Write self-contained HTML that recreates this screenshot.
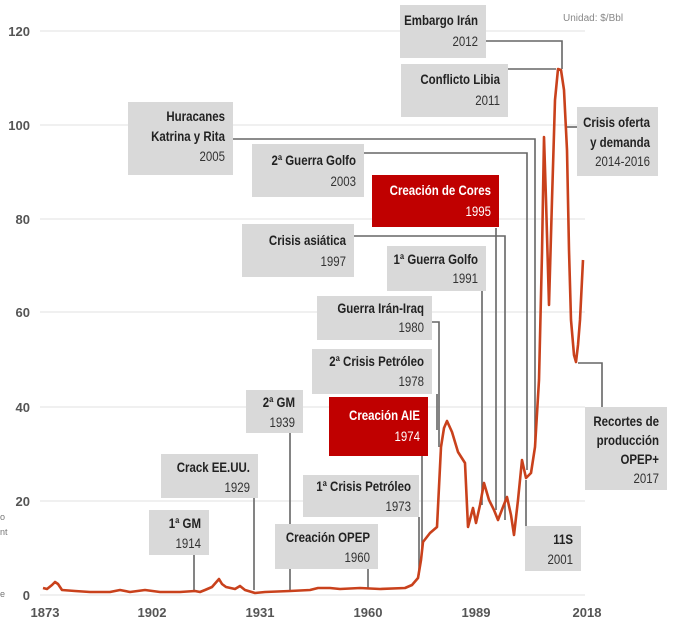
<!DOCTYPE html>
<html><head><meta charset="utf-8"><style>
html,body{margin:0;padding:0;background:#fff;}
svg{display:block;font-family:"Liberation Sans Narrow","Liberation Sans",sans-serif;}
.t{font-weight:bold;font-size:13.5px;fill:#222;text-anchor:end;}
.y{font-size:13.5px;fill:#333;text-anchor:end;}
.w{fill:#fff;}
.ax{font-size:13px;fill:#555;font-weight:bold;}
</style></head><body>
<svg width="680" height="630" viewBox="0 0 680 630">
<g stroke="#e6e6e6" stroke-width="1.2">
<line x1="40" y1="31" x2="585" y2="31"/><line x1="40" y1="125" x2="585" y2="125"/>
<line x1="40" y1="219" x2="585" y2="219"/><line x1="40" y1="312" x2="585" y2="312"/>
<line x1="40" y1="407" x2="585" y2="407"/><line x1="40" y1="501" x2="585" y2="501"/>
<line x1="40" y1="595" x2="585" y2="595"/>
</g>
<g class="ax" text-anchor="end">
<text x="30" y="36">120</text><text x="30" y="130">100</text><text x="30" y="224">80</text>
<text x="30" y="317">60</text><text x="30" y="412">40</text><text x="30" y="506">20</text><text x="30" y="600">0</text>
</g>
<g class="ax" text-anchor="middle">
<text x="45" y="617">1873</text><text x="152" y="617">1902</text><text x="260" y="617">1931</text>
<text x="368" y="617">1960</text><text x="476" y="617">1989</text><text x="587" y="617">2018</text>
</g>
<text x="563" y="21" font-size="10" fill="#888">Unidad: $/Bbl</text>
<g font-size="9" fill="#777"><text x="0" y="520">o</text><text x="0" y="535">nt</text><text x="0" y="597">e</text></g>

<g stroke="#666" stroke-width="1.6" fill="none">
<polyline points="486,41 562,41 562,69"/>
<polyline points="508,69 556,69"/>
<polyline points="233,139 535,139 535,440"/>
<polyline points="364,153 527,153 527,470"/>
<polyline points="496,228 496,510"/>
<polyline points="353,236 505,236 505,520"/>
<polyline points="482,291 482,505"/>
<polyline points="432,322 439,322 439,447"/>
<polyline points="437,394 437,430"/>
<polyline points="422,456 422,550"/>
<polyline points="419,517 419,575"/>
<polyline points="368,569 368,588"/>
<polyline points="290,433 290,590"/>
<polyline points="254,498 254,590"/>
<polyline points="194,555 194,590"/>
<polyline points="526,526 526,480"/>
<polyline points="602,407 602,363 578,363"/>
<polyline points="577,127 567,127"/>
</g>

<polyline fill="none" stroke="#c9411c" stroke-width="2.6" stroke-linejoin="round" points="43,588 47,589 52,585 55,582 58,584 62,590 75,591 90,592 110,592 120,590 130,592 145,590 160,592 180,592 195,591 200,592 205,590 212,587 219,579 222,584 226,587 235,589 240,586 245,590 255,593 265,592 290,591 310,590 318,588 330,588 340,589 360,588 380,589 405,588 412,585 418,578 421,560 423,542 430,533 437,527 441,447 444,428 447,421 452,432 458,452 465,463 468,527 473,508 476,523 480,505 484,483 489,500 494,510 498,520 503,507 507,497 511,515 514,535 518,500 522,460 526,478 531,473 535,447 539,380 542,253 544,137 546,200 549,305 552,200 555,100 558,69 561,70 564,90 567,150 569,250 571,320 574,355 576,362 578,345 580,320 583,260"/>

<g fill="#d9d9d9">
<rect x="400" y="5" width="86" height="53"/>
<rect x="401" y="64" width="107" height="53"/>
<rect x="128" y="102" width="105" height="73"/>
<rect x="252" y="144" width="112" height="53"/>
<rect x="242" y="224" width="112" height="53"/>
<rect x="387" y="246" width="99" height="45"/>
<rect x="317" y="296" width="115" height="44"/>
<rect x="312" y="349" width="120" height="45"/>
<rect x="303" y="475" width="116" height="42"/>
<rect x="275" y="524" width="103" height="45"/>
<rect x="246" y="390" width="57" height="43"/>
<rect x="161" y="454" width="97" height="44"/>
<rect x="149" y="510" width="60" height="45"/>
<rect x="525" y="526" width="56" height="45"/>
<rect x="577" y="107" width="81" height="69"/>
<rect x="585" y="407" width="82" height="83"/>
</g>
<rect x="372" y="175" width="127" height="52" fill="#c00000"/>
<rect x="329" y="397" width="99" height="59" fill="#c00000"/>

<g transform="scale(0.85,1)">
<text class="t" x="562.4" y="25">Embargo Irán</text><text class="y" x="562.4" y="46">2012</text>
<text class="t" x="588.2" y="84">Conflicto Libia</text><text class="y" x="588.2" y="105">2011</text>
<text class="t" x="264.7" y="121">Huracanes</text><text class="t" x="264.7" y="141">Katrina y Rita</text><text class="y" x="264.7" y="161">2005</text>
<text class="t" x="418.8" y="165">2ª Guerra Golfo</text><text class="y" x="418.8" y="186">2003</text>
<text class="t w" x="577.6" y="195">Creación de Cores</text><text class="y w" x="577.6" y="216">1995</text>
<text class="t" x="407.1" y="245">Crisis asiática</text><text class="y" x="407.1" y="266">1997</text>
<text class="t" x="562.4" y="264">1ª Guerra Golfo</text><text class="y" x="562.4" y="283">1991</text>
<text class="t" x="498.8" y="313">Guerra Irán-Iraq</text><text class="y" x="498.8" y="332">1980</text>
<text class="t" x="498.8" y="366">2ª Crisis Petróleo</text><text class="y" x="498.8" y="386">1978</text>
<text class="t w" x="494.1" y="420">Creación AIE</text><text class="y w" x="494.1" y="441">1974</text>
<text class="t" x="483.5" y="491">1ª Crisis Petróleo</text><text class="y" x="483.5" y="511">1973</text>
<text class="t" x="435.3" y="542">Creación OPEP</text><text class="y" x="435.3" y="562">1960</text>
<text class="t" x="347.1" y="407">2ª GM</text><text class="y" x="347.1" y="427">1939</text>
<text class="t" x="294.1" y="472">Crack EE.UU.</text><text class="y" x="294.1" y="492">1929</text>
<text class="t" x="236.5" y="528">1ª GM</text><text class="y" x="236.5" y="548">1914</text>
<text class="t" x="674.1" y="544">11S</text><text class="y" x="674.1" y="564">2001</text>
<text class="t" x="764.7" y="127">Crisis oferta</text><text class="t" x="764.7" y="147">y demanda</text><text class="y" x="764.7" y="166">2014-2016</text>
<text class="t" x="775.3" y="426">Recortes de</text><text class="t" x="775.3" y="445">producción</text><text class="t" x="775.3" y="464">OPEP+</text><text class="y" x="775.3" y="483">2017</text>
</g>
</svg>
</body></html>
